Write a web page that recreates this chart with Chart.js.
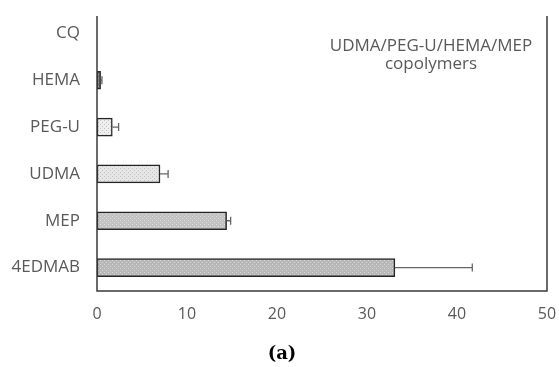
<!DOCTYPE html>
<html>
<head>
<meta charset="utf-8">
<script src="https://cdn.jsdelivr.net/npm/chart.js@4.4.1/dist/chart.umd.min.js"></script>
<style>
  html, body { margin: 0; padding: 0; background: #ffffff; }
  #wrap { width: 559px; height: 367px; position: relative; }
</style>
</head>
<body>
<div id="wrap"><canvas id="c" width="559" height="367"></canvas></div>
<script>
// ---- data ----
const categories = ['CQ', 'HEMA', 'PEG-U', 'UDMA', 'MEP', '4EDMAB'];
const values = [0, 0.4, 1.7, 7.0, 14.4, 33.1];
const errors = [0, 0.15, 0.7, 0.9, 0.45, 8.6];
const xTicks = [0, 10, 20, 30, 40, 50];
const annotationLines = ['UDMA/PEG-U/HEMA/MEP', 'copolymers'];
const panelLabel = '(a)';

// ---- styles ----
const textColor = '#595959';
function makePattern(base, dot) {
  const p = document.createElement('canvas');
  p.width = 4; p.height = 4;
  const g = p.getContext('2d');
  g.fillStyle = base; g.fillRect(0, 0, 4, 4);
  g.fillStyle = dot;
  g.fillRect(0, 0, 1, 1);
  g.fillRect(2, 2, 1, 1);
  return g.createPattern(p, 'repeat');
}
const ctx = document.getElementById('c').getContext('2d');
const fills = [
  makePattern('#e8e8e8', '#c8c8c8'),
  makePattern('#8a8a8a', '#b0b0b0'),
  makePattern('#eeeeee', '#c4c4c4'),
  makePattern('#e6e6e6', '#c0c0c0'),
  makePattern('#c2c2c2', '#dedede'),
  makePattern('#b8b8b8', '#d6d6d6')
];

const framePlugin = {
  id: 'frame',
  afterDatasetsDraw(chart) {
    const { ctx, scales } = chart;
    ctx.save();
    ctx.strokeStyle = '#666666';
    ctx.lineWidth = 1.3;
    values.forEach((v, i) => {
      if (!errors[i]) return;
      const y = scales.y.getPixelForValue(i);
      const x0 = scales.x.getPixelForValue(v);
      const x1 = scales.x.getPixelForValue(v + errors[i]);
      ctx.beginPath();
      ctx.moveTo(x0, y); ctx.lineTo(x1, y);
      ctx.moveTo(x1, y - 4); ctx.lineTo(x1, y + 4);
      ctx.stroke();
    });
    ctx.restore();
  },
  afterDraw(chart) {
    const { ctx, chartArea: a } = chart;
    const top = a.top + 6;
    ctx.save();
    ctx.strokeStyle = '#3a3a3a';
    ctx.lineWidth = 1.5;
    ctx.beginPath();
    ctx.moveTo(a.left, top); ctx.lineTo(a.left, a.bottom); ctx.lineTo(a.right, a.bottom); ctx.lineTo(a.right, top);
    ctx.stroke();
    ctx.fillStyle = textColor;
    ctx.font = '17px "Open Sans"';
    ctx.textAlign = 'center';
    ctx.textBaseline = 'middle';
    ctx.fillText(annotationLines[0], 431, 46);
    ctx.fillText(annotationLines[1], 431, 64);
    ctx.fillStyle = '#000000';
    ctx.font = 'bold 18px "DejaVu Serif"';
    ctx.fillText(panelLabel, 282, 354);
    ctx.restore();
  }
};

new Chart(ctx, {
  type: 'bar',
  data: {
    labels: categories,
    datasets: [{
      data: values,
      backgroundColor: fills,
      borderColor: '#262626',
      borderWidth: 1.5,
      borderSkipped: false,
      barThickness: 18
    }]
  },
  options: {
    indexAxis: 'y',
    responsive: false,
    animation: false,
    layout: { padding: { top: 10, right: 12, bottom: 36, left: 0 } },
    plugins: { legend: { display: false }, tooltip: { enabled: false }, title: { display: false } },
    scales: {
      x: {
        min: 0, max: 50,
        afterBuildTicks(scale) { scale.ticks = xTicks.map(v => ({ value: v })); },
        afterFit(scale) { scale.height = 40; scale.paddingLeft = 0; scale.paddingRight = 0; },
        grid: { display: false, drawTicks: false },
        border: { display: false },
        ticks: { color: textColor, font: { family: 'Open Sans', size: 16 }, padding: 14 }
      },
      y: {
        afterFit(scale) { scale.width = 97; scale.paddingTop = 0; scale.paddingBottom = 0; },
        grid: { display: false, drawTicks: false },
        border: { display: false },
        ticks: { color: textColor, font: { family: 'Open Sans', size: 17 }, padding: 17 }
      }
    }
  },
  plugins: [framePlugin]
});
</script>
</body>
</html>
